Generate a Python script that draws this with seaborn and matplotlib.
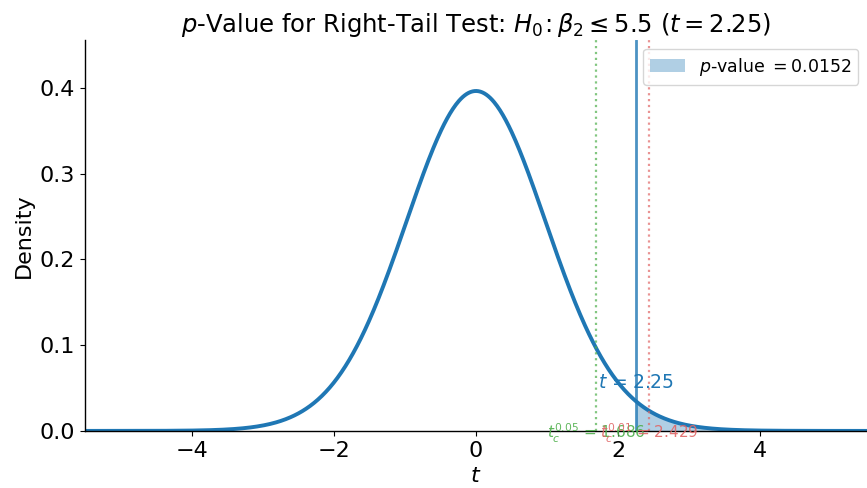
import math
import numpy as np
import pandas as pd
import matplotlib
matplotlib.use("Agg")
import matplotlib.pyplot as plt
import seaborn as sns

# ------------------------------------------------------------
# Test parameters
# ------------------------------------------------------------
DF = 38                 # degrees of freedom implied by the critical values
T_STAT = 2.25
P_VALUE = 0.0152
ALPHAS = [0.05, 0.01]
T_CRIT = [1.686, 2.429]
CRIT_COLORS = ["#4daf4a", "#e06666"]
X_RANGE = [-5.5, 5.5]


def t_pdf(x, df):
    c = math.exp(math.lgamma((df + 1) / 2) - math.lgamma(df / 2)) / math.sqrt(df * math.pi)
    return c * (1 + x ** 2 / df) ** (-(df + 1) / 2)


x = np.linspace(X_RANGE[0], X_RANGE[1], 800)
curve = pd.DataFrame({"t": x, "density": t_pdf(x, DF)})

sns.set_style("ticks", {"axes.edgecolor": "black", "text.color": "black",
                        "axes.labelcolor": "black", "xtick.color": "black",
                        "ytick.color": "black"})
plt.rcParams["font.family"] = ["DejaVu Sans"]
plt.rcParams["axes.linewidth"] = 1.0

fig = plt.figure(figsize=(8.67, 4.88), dpi=100)
ax = fig.add_axes([0.098, 0.117, 0.902, 0.801])

sns.lineplot(data=curve, x="t", y="density", color="#1f77b4", linewidth=2.8, ax=ax)

tail = curve[curve["t"] >= T_STAT]
ax.fill_between(tail["t"], tail["density"], color="#1f77b4", alpha=0.35, linewidth=0,
                label=rf"$p$-value $= {P_VALUE:.4f}$")

ax.axvline(T_STAT, color="#1f77b4", linewidth=2, alpha=0.8)
ax.text(T_STAT, 0.057, rf"$t$ = {T_STAT}", color="#1f77b4", fontsize=13.5, ha="center", va="center")

for a, tc, col in zip(ALPHAS, T_CRIT, CRIT_COLORS):
    ax.axvline(tc, color=col, linestyle=":", linewidth=1.6, alpha=0.7)
    ax.text(tc, -0.003, rf"$t_c^{{{a}}}$ = {tc:.3f}", color=col, fontsize=11,
            ha="center", va="center", alpha=0.9)

ymax = curve["density"].max() * 1.15
ax.set_xlim(*X_RANGE)
ax.set_ylim(0, ymax)
ax.set_yticks([0.0, 0.1, 0.2, 0.3, 0.4])
ax.set_xticks([-4, -2, 0, 2, 4])
ax.tick_params(labelsize=16)
ax.set_xlabel(r"$t$", fontsize=16)
ax.set_ylabel("Density", fontsize=16)
ax.set_title(rf"$p$-Value for Right-Tail Test: $H_0\!:\beta_2 \leq 5.5$ ($t = {T_STAT}$)", fontsize=17.5)
ax.legend(loc="upper right", fontsize=12.5)
sns.despine(ax=ax)

fig.savefig("out.png", dpi=100)
